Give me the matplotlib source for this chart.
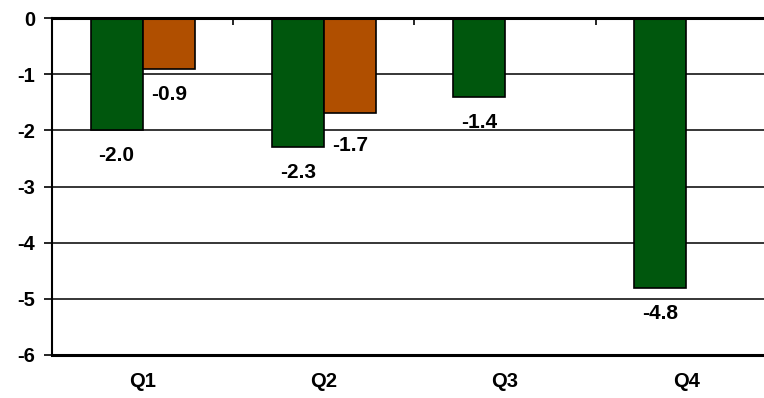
import matplotlib
matplotlib.use("Agg")
import matplotlib.pyplot as plt
import numpy as np

# dados
trimestres = ["Q1", "Q2", "Q3", "Q4"]
serie_verde = [-2.0, -2.3, -1.4, -4.8]
serie_laranja = [-0.9, -1.7, np.nan, np.nan]
rotulos_verde = ["-2.0", "-2.3", "-1.4", "-4.8"]
rotulos_laranja = ["-0.9", "-1.7", "", ""]

plt.rcParams["font.family"] = ["Liberation Sans", "DejaVu Sans"]

fig = plt.figure(figsize=(7.64, 3.98), dpi=100)
ax = fig.add_axes([52/764, 1-355/398, (777-52)/764, (355-18)/398])

x = np.arange(len(trimestres))
largura = 0.287

barras_v = ax.bar(x - largura/2, serie_verde, largura, color="#00570D",
                  edgecolor="black", linewidth=1.2, zorder=3)
barras_l = ax.bar(x + largura/2, serie_laranja, largura, color="#B04F00",
                  edgecolor="black", linewidth=1.2, zorder=3)

# rotulos abaixo das barras
for i, v in enumerate(serie_verde):
    ax.annotate(rotulos_verde[i], (x[i] - largura/2, v), xytext=(0, -11.5),
                textcoords="offset points", ha="center", va="top",
                fontsize=15, fontweight="bold")

for i, v in enumerate(serie_laranja):
    if np.isnan(v):
        continue
    desloc = -16 if rotulos_laranja[i] == "-1.7" else -12
    ax.annotate(rotulos_laranja[i], (x[i] + largura/2, v), xytext=(0, desloc),
                textcoords="offset points", ha="center", va="top",
                fontsize=15, fontweight="bold")

ax.set_xlim(-0.5, 3.5)
ax.set_ylim(-6, 0)
ax.set_yticks(range(-6, 1))
ax.set_yticklabels([str(t) for t in range(-6, 1)], fontweight="bold", fontsize=14.5)

ax.set_xticks(x)
ax.set_xticklabels(trimestres, fontweight="bold", fontsize=14.5)
ax.set_xticks(np.arange(-0.5, 4, 1), minor=True)
ax.tick_params(axis="x", which="major", length=0, pad=12)
ax.tick_params(axis="x", which="minor", top=True, bottom=False,
               direction="in", length=5, width=1.2)
ax.tick_params(axis="y", direction="out", length=6, width=1.2, pad=6)

ax.yaxis.grid(True, color="black", linewidth=1.1, zorder=0)
ax.set_axisbelow(True)

ax.spines["right"].set_visible(False)
ax.spines["top"].set_linewidth(2.2)
ax.spines["bottom"].set_linewidth(2.2)
ax.spines["left"].set_linewidth(1.5)
ax.spines["top"].set_zorder(4)

fig.savefig("out.png", dpi=100)
